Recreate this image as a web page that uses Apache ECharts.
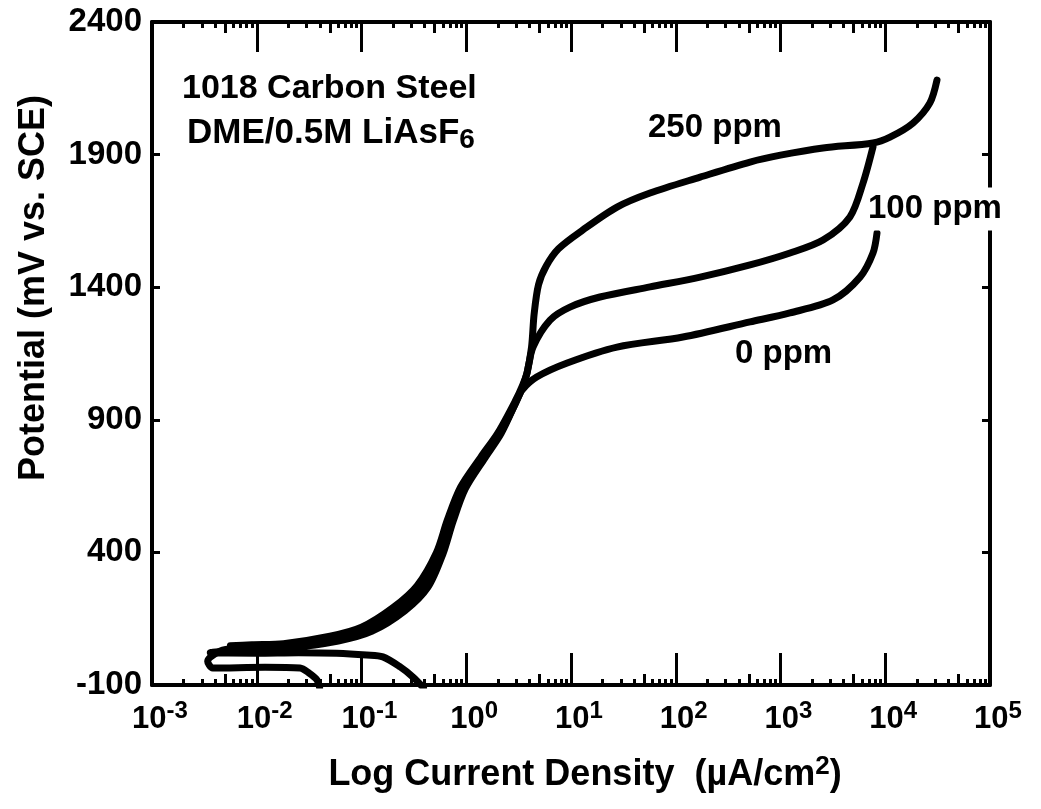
<!DOCTYPE html>
<html lang="en">
<head>
    <meta charset="UTF-8">
    <title>Polarization curves</title>
    <script src="https://cdn.jsdelivr.net/npm/echarts@6/dist/echarts.min.js"></script>
    <style>
        html, body { margin: 0; padding: 0; background: #fff; }
        #main { width: 1041px; height: 809px; }
    </style>
</head>
<body>
    <div id="main"></div>
    <script type="text/javascript">
        // current density (uA/cm2), potential (mV vs. SCE)
        var ppm0 = [
            [0.39, -110], [0.31, -70], [0.234, -32], [0.16, 6], [0.112, 13], [0.058, 20],
            [0.025, 22], [0.01, 20], [0.0036, 22],
            [0.006, 30], [0.02, 40], [0.06, 66], [0.125, 102], [0.26, 180], [0.43, 268],
            [0.6, 395], [0.75, 518], [0.98, 640], [1.5, 755], [2.15, 848], [3.05, 975], [3.4, 1012],
            [4.7, 1061], [9.2, 1114], [27.5, 1174], [117, 1212], [512, 1269], [1230, 1303],
            [3170, 1352], [5740, 1438], [7640, 1529], [8340, 1604]
        ];
        var ppm100 = [
            [0.0398, -110], [0.0376, -81], [0.0316, -55], [0.0259, -36], [0.012, -33], [0.0038, -36],
            [0.0034, -10], [0.0045, 28],
            [0.0065, 38], [0.018, 48], [0.056, 76], [0.115, 114], [0.24, 192], [0.40, 280],
            [0.57, 405], [0.71, 526], [0.95, 650], [1.5, 765], [2.15, 855], [3.1, 980], [3.5, 1030],
            [3.8, 1076], [4.34, 1174],
            [6.31, 1276], [9.77, 1325], [18.9, 1363], [56.8, 1401], [171, 1438], [512, 1484],
            [1233, 1529], [2547, 1578], [4600, 1665], [6140, 1793], [7640, 1929]
        ];
        var ppm250 = [
            [0.0056, 48], [0.009, 52], [0.018, 56], [0.05, 84], [0.1, 118], [0.2, 192], [0.34, 275],
            [0.52, 400], [0.66, 522], [0.88, 645], [1.38, 760], [2.0, 850], [2.95, 972], [3.45, 1030],
            [3.8, 1076], [4.2, 1174], [4.45, 1300], [4.9, 1410], [5.8, 1480], [7.6, 1545], [13.0, 1616],
            [27.5, 1702], [56.8, 1755], [171, 1815], [512, 1872], [1000, 1898], [2547, 1925],
            [7640, 1944], [11100, 1966], [18400, 2019], [26700, 2095], [31200, 2181]
        ];

        var decadeTicks = [1e-3, 1e-2, 1e-1, 1, 10, 100, 1000, 1e4, 1e5];
        var minorMultiples = [2, 3, 4, 6, 7, 8, 9];
        var yTicks = [-100, 400, 900, 1400, 1900, 2400];

        // minor tick positions, in decades (exponent space) for helper axes
        var minorExp = [], fiveExp = [];
        for (var d = -3; d < 5; d++) {
            minorMultiples.forEach(function (m) { minorExp.push(d + Math.log10(m)); });
            fiveExp.push(d + Math.log10(5));
        }

        var font = 'Liberation Sans';
        var black = '#000';

        function tickAxis(position, ticks, len) {
            return {
                type: 'value', min: -3, max: 5, position: position,
                axisLine: { show: false, onZero: false },
                axisTick: {
                    show: true, inside: true, length: len, customValues: ticks,
                    lineStyle: { color: black, width: 3 }
                },
                axisLabel: { show: false },
                splitLine: { show: false }
            };
        }

        var chart = echarts.init(document.getElementById('main'));
        var option = {
            backgroundColor: '#fff',
            animation: false,
            grid: { left: 152, right: 51, top: 22, bottom: 124 },
            xAxis: [
                {
                    type: 'log', logBase: 10, min: 0.001, max: 100000, position: 'bottom',
                    axisLine: { show: true, onZero: false, lineStyle: { color: black, width: 4 } },
                    axisTick: {
                        show: true, inside: true, length: 32, customValues: decadeTicks,
                        lineStyle: { color: black, width: 3 }
                    },
                    axisLabel: {
                        show: true,
                        customValues: decadeTicks,
                        margin: 14,
                        formatter: function (v) {
                            var e = Math.round(Math.log(v) / Math.LN10);
                            return '{b|10}{s|' + e + '}';
                        },
                        rich: {
                            b: { fontFamily: font, fontWeight: 'bold', fontSize: 31, color: black, padding: [0, 0, 0, 16] },
                            s: { fontFamily: font, fontWeight: 'bold', fontSize: 24, color: black, padding: [0, 0, 16, 0] }
                        }
                    },
                    splitLine: { show: false }
                },
                {
                    type: 'log', logBase: 10, min: 0.001, max: 100000, position: 'top',
                    axisLine: { show: true, onZero: false, lineStyle: { color: black, width: 4 } },
                    axisTick: {
                        show: true, inside: true, length: 30, customValues: decadeTicks,
                        lineStyle: { color: black, width: 3 }
                    },
                    axisLabel: { show: false },
                    splitLine: { show: false }
                },
                tickAxis('bottom', minorExp, 6),
                tickAxis('bottom', fiveExp, 11),
                tickAxis('top', minorExp, 6),
                tickAxis('top', fiveExp, 11)
            ],
            yAxis: [
                {
                    type: 'value', min: -100, max: 2400, interval: 500, position: 'left',
                    axisLine: { show: true, onZero: false, lineStyle: { color: black, width: 4 } },
                    axisTick: { show: true, inside: true, length: 8, lineStyle: { color: black, width: 3 } },
                    axisLabel: {
                        margin: 10, fontFamily: font, fontWeight: 'bold', fontSize: 33, color: black,
                        customValues: yTicks,
                        formatter: function (v) { return String(v); }
                    },
                    splitLine: { show: false }
                },
                {
                    type: 'value', min: -100, max: 2400, interval: 500, position: 'right',
                    axisLine: { show: true, onZero: false, lineStyle: { color: black, width: 4 } },
                    axisTick: { show: true, inside: true, length: 8, lineStyle: { color: black, width: 3 } },
                    axisLabel: { show: false },
                    splitLine: { show: false }
                }
            ],
            series: [
                { name: '0 ppm', data: ppm0 },
                { name: '100 ppm', data: ppm100 },
                { name: '250 ppm', data: ppm250 }
            ].map(function (s) {
                return {
                    name: s.name, type: 'line', data: s.data,
                    xAxisIndex: 0, yAxisIndex: 0,
                    smooth: 0.3, showSymbol: false, clip: true,
                    lineStyle: { color: black, width: 7, cap: 'round', join: 'round' }
                };
            }),
            graphic: [
                {
                    type: 'text', z: 100, x: 34, y: 288, rotation: Math.PI / 2,
                    style: {
                        text: 'Potential (mV vs. SCE)', font: 'bold 36px ' + font, fill: black,
                        align: 'center', verticalAlign: 'middle'
                    }
                },
                {
                    type: 'text', z: 100, x: 585, y: 775,
                    style: {
                        text: 'Log Current Density  (\u00b5A/cm{s|2})',
                        font: 'bold 36px ' + font, fill: black,
                        align: 'center', verticalAlign: 'middle',
                        rich: { s: { font: 'bold 26px ' + font, padding: [0, 0, 16, 0] } }
                    }
                },
                {
                    type: 'text', z: 100, x: 182, y: 89,
                    style: { text: '1018 Carbon Steel', font: 'bold 34px ' + font, fill: black, verticalAlign: 'middle' }
                },
                {
                    type: 'text', z: 100, x: 187, y: 133,
                    style: {
                        text: 'DME/0.5M LiAsF{s|6}', font: 'bold 35px ' + font, fill: black, verticalAlign: 'middle',
                        rich: { s: { font: 'bold 28px ' + font, padding: [14, 0, 0, 0] } }
                    }
                },
                {
                    type: 'text', z: 100, x: 648, y: 128,
                    style: { text: '250 ppm', font: 'bold 33px ' + font, fill: black, verticalAlign: 'middle' }
                },
                {
                    type: 'text', z: 100, x: 866, y: 209,
                    style: {
                        text: '100 ppm', font: 'bold 33px ' + font, fill: black, verticalAlign: 'middle',
                        backgroundColor: '#fff', padding: [4, 2, 6, 2]
                    }
                },
                {
                    type: 'text', z: 100, x: 735, y: 354,
                    style: { text: '0 ppm', font: 'bold 33px ' + font, fill: black, verticalAlign: 'middle' }
                }
            ]
        };
        chart.setOption(option);
    </script>
</body>
</html>
